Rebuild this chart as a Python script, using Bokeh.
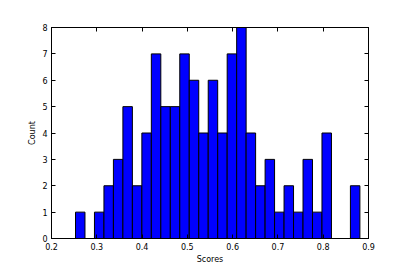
import numpy as np
from bokeh.plotting import figure
from bokeh.models import LinearAxis, FixedTicker, Range1d
from bokeh.embed import file_html
from bokeh.resources import INLINE

# Histogram data (30 bins)
bin_start = 0.253
bin_end = 0.881
counts = [1, 0, 1, 2, 3, 5, 2, 4, 7, 5, 5, 7, 6, 4, 6, 4, 7, 8, 4, 2,
          3, 1, 2, 1, 3, 1, 4, 0, 0, 2]
x_ticks = [0.2, 0.3, 0.4, 0.5, 0.6, 0.7, 0.8, 0.9]
y_ticks = [0, 1, 2, 3, 4, 5, 6, 7, 8]
x_label = "Scores"
y_label = "Count"

edges = np.linspace(bin_start, bin_end, len(counts) + 1)

p = figure(frame_width=317, frame_height=211,
           min_border_left=51, min_border_right=33,
           min_border_top=27, min_border_bottom=27,
           x_range=Range1d(0.2, 0.9), y_range=Range1d(0, 8),
           output_backend="svg", toolbar_location=None,
           x_axis_label=x_label, y_axis_label=y_label)

p.quad(left=edges[:-1], right=edges[1:], top=counts, bottom=0,
       fill_color="#0000ff", line_color="black", line_width=1)

p.xgrid.visible = False
p.ygrid.visible = False
p.outline_line_color = "black"
p.outline_line_width = 1
p.background_fill_color = "white"
p.border_fill_color = "white"

font = "DejaVu Sans"

def style(ax, ticks, labels=True):
    ax.ticker = FixedTicker(ticks=ticks)
    ax.major_tick_in = 4
    ax.major_tick_out = 0
    ax.minor_tick_line_color = None
    ax.major_tick_line_color = "black"
    ax.axis_line_color = "black"
    ax.major_label_text_font = font
    ax.major_label_text_font_size = "8px"
    ax.major_label_text_color = "black"
    ax.axis_label_text_font = font
    ax.axis_label_text_font_size = "8px"
    ax.axis_label_text_font_style = "normal"
    ax.axis_label_text_color = "black"
    if not labels:
        ax.major_label_text_alpha = 0
        ax.major_label_text_font_size = "0px"

xa = p.xaxis[0]
ya = p.yaxis[0]
style(xa, x_ticks)
style(ya, y_ticks)
xa.major_label_standoff = 4
xa.axis_label_standoff = 2
ya.major_label_standoff = 4
ya.axis_label_standoff = 2
ya.major_label_orientation = "horizontal"

top = LinearAxis()
style(top, x_ticks, labels=False)
p.add_layout(top, "above")
right = LinearAxis()
style(right, y_ticks, labels=False)
p.add_layout(right, "right")
top.major_label_standoff = 0
right.major_label_standoff = 0

open("out.html", "w").write(file_html(p, INLINE))
